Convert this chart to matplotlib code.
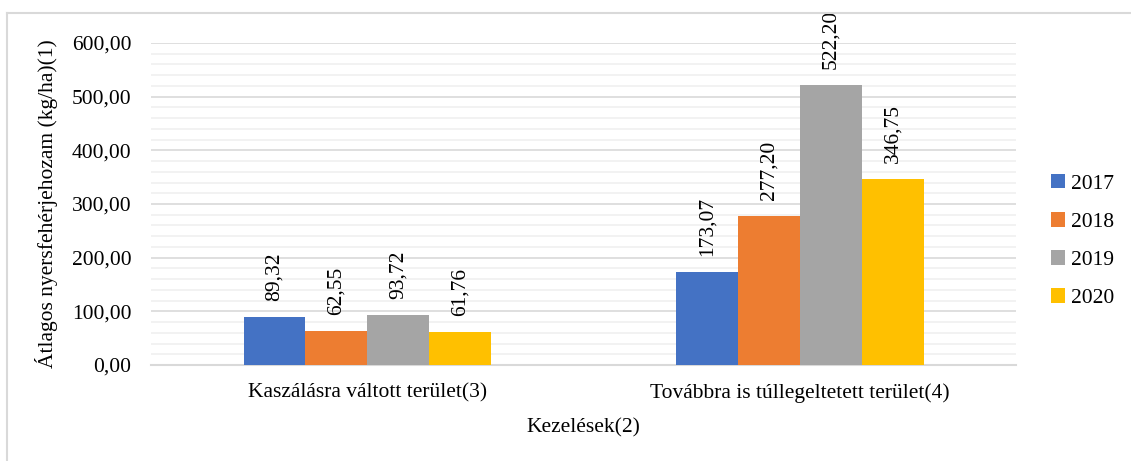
import matplotlib
matplotlib.use('Agg')
import matplotlib.pyplot as plt
import numpy as np
from matplotlib.lines import Line2D

plt.rcParams['font.family'] = ['Liberation Serif', 'DejaVu Serif']

categories = ['Kaszálásra váltott terület(3)', 'Továbbra is túllegeltetett terület(4)']
years = ['2017', '2018', '2019', '2020']
values = {
    '2017': [89.32, 173.07],
    '2018': [62.55, 277.20],
    '2019': [93.72, 522.20],
    '2020': [61.76, 346.75],
}
colors = ['#4472C4', '#ED7D31', '#A5A5A5', '#FFC000']
yticks = [0, 100, 200, 300, 400, 500, 600]


def hu(v):
    return ('%.2f' % v).replace('.', ',')


fs = 15.5
fig = plt.figure(figsize=(11.31, 4.61), dpi=100)
ax = fig.add_axes([0.1335, 0.2082, 0.765, 0.6985])

x = np.arange(len(categories))
w = 0.143
for i, yr in enumerate(years):
    pos = x + (i - 1.5) * w
    bars = ax.bar(pos, values[yr], width=w, color=colors[i], label=yr, zorder=3)
    for b, v in zip(bars, values[yr]):
        ax.text(b.get_x() + b.get_width() / 2, v + 30, hu(v), rotation=90,
                ha='center', va='bottom', fontsize=fs, zorder=4)

ax.set_xlim(-0.5, 1.5)
ax.set_ylim(0, 600)
ax.set_yticks(yticks)
ax.set_yticklabels([hu(t) for t in yticks], fontsize=fs)
ax.set_yticks(np.arange(0, 601, 20), minor=True)
ax.set_xticks(x)
ax.set_xticklabels(categories, fontsize=fs)
ax.tick_params(axis='both', which='both', length=0)
ax.tick_params(axis='y', pad=14)
ax.tick_params(axis='x', pad=13)
ax.grid(axis='y', which='minor', color='#f0f0f0', lw=1.2, zorder=0)
ax.grid(axis='y', which='major', color='#d9d9d9', lw=1.2, zorder=1)
for s in ['top', 'right', 'left']:
    ax.spines[s].set_visible(False)
ax.spines['bottom'].set_color('#d9d9d9')
ax.spines['bottom'].set_linewidth(1.5)

ax.set_xlabel('Kezelések(2)', fontsize=fs, labelpad=11)
ax.set_ylabel('Átlagos nyersfehérjehozam (kg/ha)(1)', fontsize=fs, labelpad=10)

leg = ax.legend(loc='center left', bbox_to_anchor=(1.03, 0.385), frameon=False,
                fontsize=fs, handlelength=0.65, handleheight=0.65,
                handletextpad=0.3, labelspacing=0.85, borderaxespad=0)

# outer chart frame
fig.add_artist(Line2D([7 / 1131, 1], [1 - 13 / 461, 1 - 13 / 461], color='#d9d9d9', lw=1.5))
fig.add_artist(Line2D([7 / 1131, 7 / 1131], [0, 1 - 13 / 461], color='#d9d9d9', lw=1.5))

fig.savefig('out.png', dpi=100)
